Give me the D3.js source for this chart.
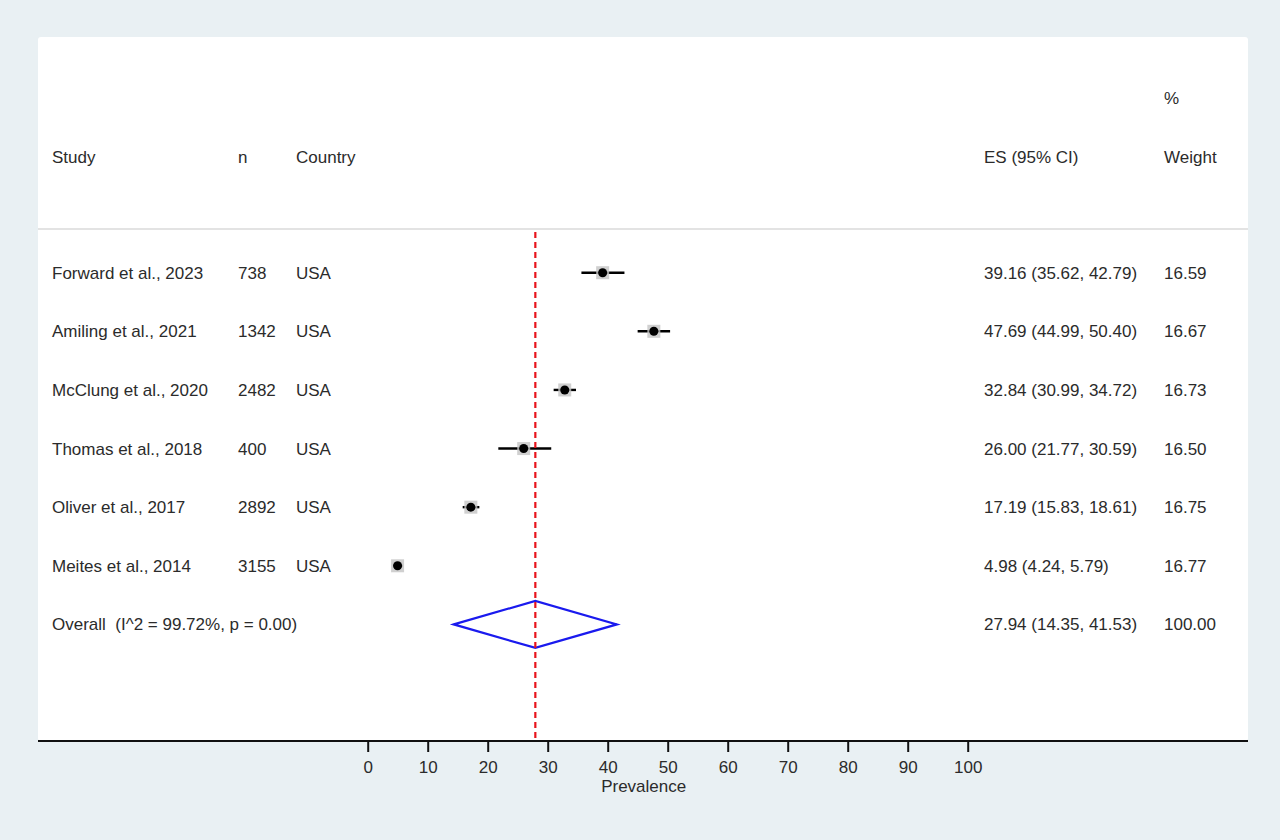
<!DOCTYPE html>
<html>
<head>
<meta charset="utf-8">
<script src="https://cdn.jsdelivr.net/npm/d3@7"></script>
<style>
  body { margin: 0; background: #e9f0f3; }
  text { font-family: "Liberation Sans", Arial, sans-serif; font-size: 17px; fill: #2b2b2b; white-space: pre; }
</style>
</head>
<body>
<div id="chart"></div>
<script>
const studies = ["Forward et al., 2023", "Amiling et al., 2021", "McClung et al., 2020",
  "Thomas et al., 2018", "Oliver et al., 2017", "Meites et al., 2014"];
const sampleSizes = [738, 1342, 2482, 400, 2892, 3155];
const countries = ["USA", "USA", "USA", "USA", "USA", "USA"];
const es = [39.16, 47.69, 32.84, 26.00, 17.19, 4.98];
const lower = [35.62, 44.99, 30.99, 21.77, 15.83, 4.24];
const upper = [42.79, 50.40, 34.72, 30.59, 18.61, 5.79];
const weights = [16.59, 16.67, 16.73, 16.50, 16.75, 16.77];
const overall = { label: "Overall  (I^2 = 99.72%, p = 0.00)", es: 27.94, lower: 14.35, upper: 41.53, weight: 100.00 };
const xTicks = [0, 10, 20, 30, 40, 50, 60, 70, 80, 90, 100];

const width = 1280, height = 840;
const panel = { left: 38, top: 37, right: 1248, bottom: 741 };

const svg = d3.select("#chart").append("svg")
  .attr("width", width)
  .attr("height", height);

svg.append("rect")
  .attr("x", panel.left).attr("y", panel.top)
  .attr("width", panel.right - panel.left)
  .attr("height", panel.bottom - panel.top)
  .attr("rx", 3)
  .attr("fill", "#fff");

const x = d3.scaleLinear().domain([0, 100]).range([367.7, 967.7]);

const rows = studies.map((s, i) => ({
  study: s, n: sampleSizes[i], country: countries[i],
  es: es[i], lo: lower[i], hi: upper[i], w: weights[i]
}));

const y = d3.scalePoint()
  .domain(d3.range(rows.length + 1))
  .range([272.7, 624.4]);

const fmt = d3.format(".2f");
const cols = { study: 52, n: 238, country: 296, es: 984, weight: 1164 };

// header
const header = svg.append("g");
header.append("text").attr("x", cols.weight).attr("y", 98).attr("dy", "0.35em").text("%");
[["Study", cols.study], ["n", cols.n], ["Country", cols.country], ["ES (95% CI)", cols.es], ["Weight", cols.weight]]
  .forEach(([t, cx]) => {
    header.append("text").attr("x", cx).attr("y", 157).attr("dy", "0.35em").text(t);
  });
svg.append("line")
  .attr("x1", panel.left).attr("x2", panel.right)
  .attr("y1", 229).attr("y2", 229)
  .attr("stroke", "#c8c8c8").attr("stroke-width", 1.2);

// study rows
const g = svg.append("g").selectAll("g.row").data(rows).join("g")
  .attr("class", "row")
  .attr("transform", (d, i) => `translate(0,${y(i)})`);

g.append("text").attr("x", cols.study).attr("dy", "0.35em").text(d => d.study);
g.append("text").attr("x", cols.n).attr("dy", "0.35em").text(d => d.n);
g.append("text").attr("x", cols.country).attr("dy", "0.35em").text(d => d.country);
g.append("text").attr("x", cols.es).attr("dy", "0.35em")
  .text(d => `${fmt(d.es)} (${fmt(d.lo)}, ${fmt(d.hi)})`);
g.append("text").attr("x", cols.weight).attr("dy", "0.35em").text(d => fmt(d.w));

g.append("line")
  .attr("x1", d => x(d.lo)).attr("x2", d => x(d.hi))
  .attr("stroke", "#000").attr("stroke-width", 2.4);
g.append("rect")
  .attr("x", d => x(d.es) - 6.5).attr("y", -6.5)
  .attr("width", 13).attr("height", 13)
  .attr("fill", "#c4c4c4").attr("opacity", 0.8);
g.append("path")
  .attr("transform", d => `translate(${x(d.es)},0)`)
  .attr("d", d3.symbol(d3.symbolCircle, 64))
  .attr("fill", "#000");

// overall row
const oy = y(rows.length);
const og = svg.append("g").attr("transform", `translate(0,${oy})`);
og.append("text").attr("x", cols.study).attr("dy", "0.35em").text(overall.label);
og.append("text").attr("x", cols.es).attr("dy", "0.35em")
  .text(`${fmt(overall.es)} (${fmt(overall.lower)}, ${fmt(overall.upper)})`);
og.append("text").attr("x", cols.weight).attr("dy", "0.35em").text(fmt(overall.weight));

// red dashed reference line at pooled estimate
svg.append("line")
  .attr("x1", x(overall.es)).attr("x2", x(overall.es))
  .attr("y1", 232).attr("y2", panel.bottom)
  .attr("stroke", "#e8141c").attr("stroke-width", 2.2)
  .attr("stroke-dasharray", "6,4");

og.append("polygon")
  .attr("points", [
    [x(overall.lower), 0], [x(overall.es), -23.5],
    [x(overall.upper), 0], [x(overall.es), 23.5]
  ].map(p => p.join(",")).join(" "))
  .attr("fill", "none").attr("stroke", "#1a1aee").attr("stroke-width", 2.2);

// x axis
svg.append("line")
  .attr("x1", panel.left).attr("x2", panel.right)
  .attr("y1", panel.bottom).attr("y2", panel.bottom)
  .attr("stroke", "#111").attr("stroke-width", 2);

const axis = svg.append("g")
  .attr("transform", `translate(0,${panel.bottom})`)
  .call(d3.axisBottom(x).tickValues(xTicks).tickSize(11).tickPadding(9).tickSizeOuter(0));
axis.select(".domain").remove();
axis.selectAll(".tick line").attr("stroke", "#111").attr("stroke-width", 2);
axis.selectAll(".tick text")
  .style("font-family", "'Liberation Sans', Arial, sans-serif")
  .style("font-size", "17px").attr("fill", "#2b2b2b");

svg.append("text")
  .attr("x", x(50) - 24).attr("y", 786)
  .attr("text-anchor", "middle")
  .attr("dy", "0.35em")
  .text("Prevalence");
</script>
</body>
</html>
